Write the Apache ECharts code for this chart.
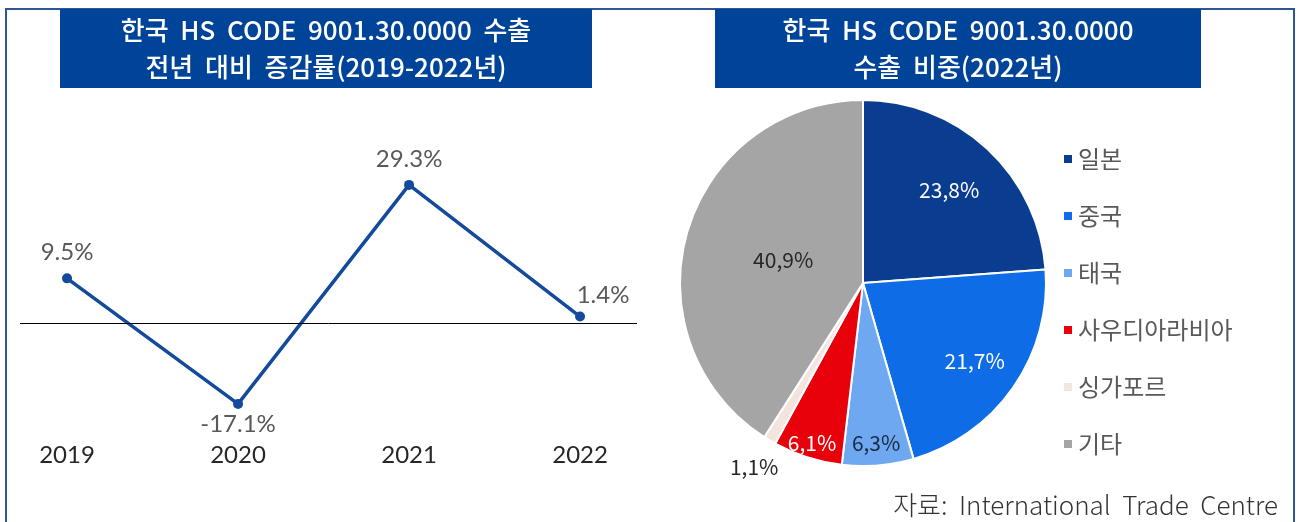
<!DOCTYPE html>
<html>
<head>
<meta charset="utf-8">
<script src="https://cdn.jsdelivr.net/npm/echarts@6/dist/echarts.min.js"></script>
<style>
  html, body { margin: 0; padding: 0; background: #fff; }
  #main { width: 1299px; height: 522px; }
</style>
</head>
<body>
<div id="main"></div>
<script>
  // 전년 대비 증감률
  var years = [2019, 2020, 2021, 2022];
  var growth = [9.5, -17.1, 29.3, 1.4];

  // 수출 비중(2022년)
  var countries = ['일본', '중국', '태국', '사우디아라비아', '싱가포르', '기타'];
  var shares = [23.8, 21.7, 6.3, 6.1, 1.1, 40.9];

  var sliceColors = ['#0A3D8F', '#0E6CE6', '#6EA8F0', '#E8000B', '#F3E5DD', '#A6A5A5'];
  var sliceLabelColors = ['#fff', '#fff', '#1B2A44', '#fff', '#262626', '#262626'];
  var labelRatio = [0.67, 0.72, 0.85, 0.89, 1.13, 0.44];
  var pieCenter = [863, 283];

  var chart = echarts.init(document.getElementById('main'));

  var lineLabel = [
    { position: 'top', distance: 9 },
    { position: 'bottom', distance: 3 },
    { position: 'top', distance: 9 },
    { position: 'top', distance: 9, offset: [23, 5] }
  ];

  var titleFont = { fill: '#fff', fontSize: 26, fontWeight: 500, fontFamily: 'Noto Sans CJK KR' };

  var option = {
    animation: false,
    graphic: [
      { type: 'rect', shape: { x: 6, y: 9, width: 1288, height: 540 },
        style: { fill: 'none', stroke: '#2F5597', lineWidth: 2 } },
      { type: 'rect', shape: { x: 60, y: 9, width: 532, height: 79 }, style: { fill: '#00449A' } },
      { type: 'rect', shape: { x: 715, y: 9, width: 486, height: 79 }, style: { fill: '#00449A' } },
      { type: 'text', style: Object.assign({
          text: '한국  HS  CODE  9001.30.0000  수출\n전년  대비  증감률(2019-2022년)',
          x: 326, y: 49, align: 'center', verticalAlign: 'middle', lineHeight: 37 }, titleFont) },
      { type: 'text', style: Object.assign({
          text: '한국  HS  CODE  9001.30.0000\n수출  비중(2022년)',
          x: 958, y: 49, align: 'center', verticalAlign: 'middle', lineHeight: 37 }, titleFont) },
      { type: 'text', style: {
          text: '자료:  International  Trade  Centre',
          x: 1278, y: 505, align: 'right', verticalAlign: 'middle',
          fill: '#333', fontSize: 26, fontWeight: 300, fontFamily: 'Noto Sans CJK KR' } }
    ],
    grid: { left: 20, right: 662, top: 158, bottom: 95 },
    xAxis: {
      type: 'value', min: 2018.725, max: 2022.333,
      axisLine: { show: false }, axisTick: { show: false }, splitLine: { show: false },
      axisLabel: {
        customValues: years, margin: 16, color: '#262626', fontSize: 24, fontFamily: 'Lato',
        formatter: function (v) { return String(v); }
      }
    },
    yAxis: { type: 'value', min: -22, max: 35, show: false },
    legend: {
      orient: 'vertical', left: 1062, top: 147, padding: 0,
      icon: 'rect', itemWidth: 10, itemHeight: 10, itemGap: 33,
      data: countries,
      textStyle: { fontSize: 24, color: '#595959', fontFamily: 'Noto Sans CJK KR' }
    },
    series: [
      {
        type: 'line',
        data: years.map(function (y, i) {
          return { value: [y, growth[i]], label: lineLabel[i] };
        }),
        symbol: 'circle', symbolSize: 10,
        lineStyle: { color: '#134A9C', width: 3.5 },
        itemStyle: { color: '#134A9C' },
        label: {
          show: true, fontSize: 24, color: '#595959', fontFamily: 'Lato',
          formatter: function (p) { return p.value[1] + '%'; }
        },
        markLine: {
          silent: true, symbol: 'none', label: { show: false },
          lineStyle: { color: '#000', width: 1, type: 'solid' },
          data: [{ yAxis: 0 }]
        }
      },
      {
        type: 'pie',
        center: pieCenter, radius: 183,
        startAngle: 90, clockwise: true,
        data: countries.map(function (c, i) {
          return { name: c, value: shares[i], itemStyle: { color: sliceColors[i] },
                   label: { color: sliceLabelColors[i] } };
        }),
        itemStyle: { borderColor: '#fff', borderWidth: 2 },
        label: {
          show: true, position: 'inside', fontSize: 21, fontFamily: 'Noto Sans CJK KR',
          formatter: function (p) { return String(p.value).replace('.', ',') + '%'; }
        },
        labelLine: { show: false },
        labelLayout: function (p) {
          var r = p.labelRect;
          var lx = r.x + r.width / 2 - pieCenter[0];
          var ly = r.y + r.height / 2 - pieCenter[1];
          var k = labelRatio[p.dataIndex] / 0.5 - 1;
          return { dx: lx * k, dy: ly * k };
        }
      }
    ]
  };

  chart.setOption(option);
  window.addEventListener('resize', function () { chart.resize(); });
</script>
</body>
</html>
